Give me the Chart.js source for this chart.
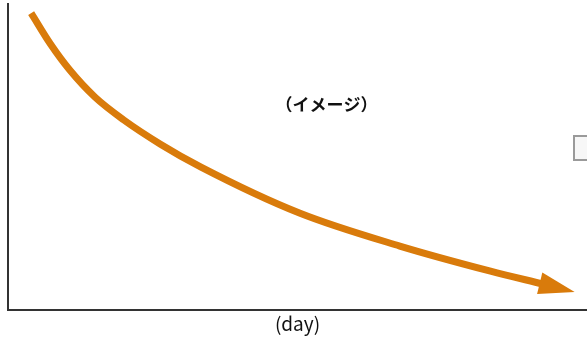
<!DOCTYPE html>
<html>
<head>
<meta charset="utf-8">
<script src="https://cdn.jsdelivr.net/npm/chart.js@4/dist/chart.umd.min.js"></script>
<style>
  body { margin: 0; background: #fff; }
  #wrap { position: relative; width: 587px; height: 337px; }
  #box { position: absolute; left: 573px; top: 135px; width: 20px; height: 22px;
         border: 2px solid #9a9a9a; background: #f7f7f7; }
</style>
</head>
<body>
<div id="wrap">
  <canvas id="decayChart" width="587" height="337"></canvas>
  <div id="box"></div>
</div>
<script>
// curve (day, level)
var days   = [1.2, 2.2, 3.2, 4.5, 6, 7.9, 10, 15.1, 20.3, 25, 27.7];
var levels = [97, 86.9, 78.4, 69.6, 62.1, 54.2, 46.7, 31.7, 20.9, 12.7, 8.5];
var noteText = '（イメージ）';
var xTitle = '(day)';

var points = [];
for (var i in days) {
  points.push({x: days[i], y: levels[i]});
}

var orange = '#d97b0b';

// arrow head on the last point + the note text
var extras = {
  id: 'extras',
  afterDatasetsDraw: function(chart) {
    var ctx = chart.ctx;
    var xs = chart.scales.x, ys = chart.scales.y;
    var n = points.length;
    var x1 = xs.getPixelForValue(points[n-2].x), y1 = ys.getPixelForValue(points[n-2].y);
    var x2 = xs.getPixelForValue(points[n-1].x), y2 = ys.getPixelForValue(points[n-1].y);
    var a = Math.atan2(y2 - y1, x2 - x1);
    var len = 33, half = 11;
    ctx.save();
    ctx.translate(x2, y2);
    ctx.rotate(a);
    ctx.beginPath();
    ctx.moveTo(len, 0);
    ctx.lineTo(-3, -half);
    ctx.lineTo(-3, half);
    ctx.closePath();
    ctx.fillStyle = orange;
    ctx.fill();
    ctx.restore();

    ctx.save();
    ctx.font = 'bold 17px "Noto Sans CJK JP"';
    ctx.fillStyle = '#111';
    ctx.textAlign = 'center';
    ctx.textBaseline = 'middle';
    ctx.fillText(noteText, xs.getPixelForValue(16.5), ys.getPixelForValue(67.3));
    ctx.restore();
  }
};

var chart = new Chart(document.getElementById('decayChart'), {
  type: 'line',
  data: {
    datasets: [{
      data: points,
      borderColor: orange,
      borderWidth: 7,
      borderCapStyle: 'butt',
      pointRadius: 0,
      cubicInterpolationMode: 'monotone',
      fill: false
    }]
  },
  options: {
    responsive: false,
    animation: false,
    layout: { padding: { left: 8, top: 4, right: 0, bottom: 0 } },
    plugins: { legend: { display: false }, tooltip: { enabled: false } },
    scales: {
      x: {
        type: 'linear', min: 0, max: 30,
        grid: { display: false },
        ticks: { display: false },
        border: { display: true, color: '#333', width: 2 },
        title: { display: true, text: xTitle, color: '#111',
                 font: { family: '"Noto Sans CJK JP"', size: 19 }, padding: { top: 2, bottom: 2 } },
        afterFit: function(s) { s.height = 27; }
      },
      y: {
        min: 0, max: 100,
        grid: { display: false },
        ticks: { display: false },
        border: { display: true, color: '#333', width: 2 },
        afterFit: function(s) { s.width = 0; }
      }
    }
  },
  plugins: [extras]
});
</script>
</body>
</html>
